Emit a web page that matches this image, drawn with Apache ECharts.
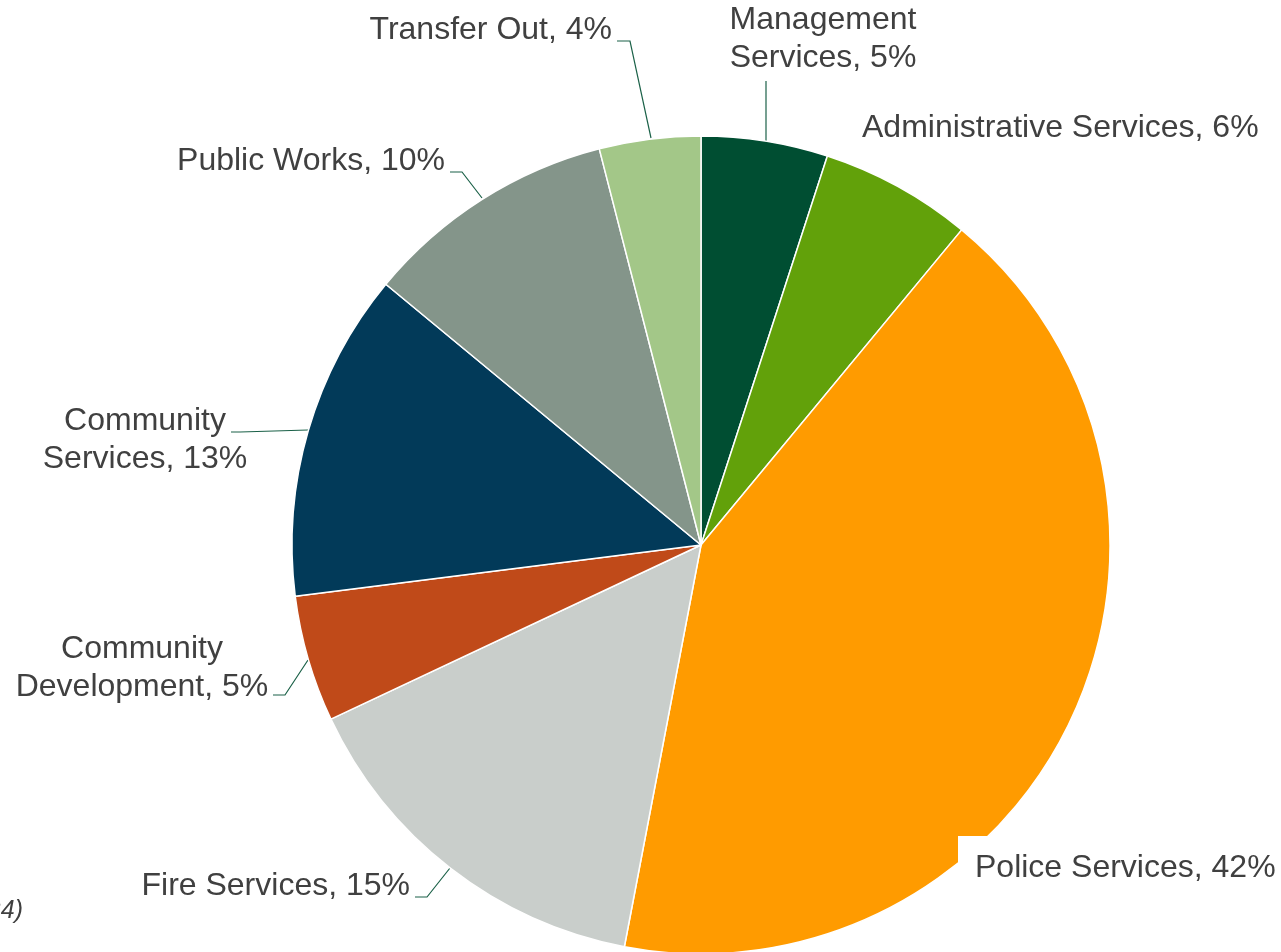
<!DOCTYPE html>
<html>
<head>
<meta charset="utf-8">
<script src="https://cdn.jsdelivr.net/npm/echarts@6/dist/echarts.min.js"></script>
<style>
  html, body { margin: 0; padding: 0; background: #fff; }
  #chart { width: 1281px; height: 952px; }
</style>
</head>
<body>
<div id="chart"></div>
<script>
// General fund expenditures by department (percent of total)
const categories = [
  'Management\nServices',
  'Administrative Services',
  'Police Services',
  'Fire Services',
  'Community\nDevelopment',
  'Community\nServices',
  'Public Works',
  'Transfer Out'
];
const shares = [5, 6, 42, 15, 5, 13, 10, 4];
const sliceColors = ['#004E32', '#62A10A', '#FF9B00', '#C9CECB', '#C04A19', '#023A59', '#84958A', '#A3C788'];

// Label placement per slice: anchor point, alignment, and optional leader line
const labelPlacement = [
  { x: 823, y: 39, align: 'center', line: [[766, 141], [766, 112], [766, 81]] },
  { x: 862, y: 128, align: 'left', line: null },
  { x: 975, y: 868, align: 'left', line: null },
  { x: 410, y: 886, align: 'right', line: [[450, 868], [427, 897], [415, 897]] },
  { x: 142, y: 668, align: 'center', line: [[308, 660], [285, 695], [273, 695]] },
  { x: 145, y: 440, align: 'center', line: [[308, 430], [240, 432], [231, 432]] },
  { x: 445, y: 161, align: 'right', line: [[482, 198], [462, 172], [450, 172]] },
  { x: 612, y: 30, align: 'right', line: [[651, 138], [630, 41], [617, 41]] }
];

const chart = echarts.init(document.getElementById('chart'), null, { renderer: 'canvas' });

const seriesData = categories.map((name, i) => {
  const item = {
    name: name,
    value: shares[i],
    itemStyle: { color: sliceColors[i] }
  };
  if (!labelPlacement[i].line) {
    item.labelLine = { show: false };
  }
  if (i === 2) {
    item.label = { backgroundColor: '#ffffff', padding: [13, 12, 13, 17] };
  }
  return item;
});

chart.setOption({
  animation: false,
  backgroundColor: '#ffffff',
  series: [{
    type: 'pie',
    center: [701, 545],
    radius: [0, 409],
    startAngle: 90,
    clockwise: true,
    data: seriesData,
    itemStyle: { borderColor: '#ffffff', borderWidth: 1.5 },
    label: {
      show: true,
      formatter: p => p.name + ', ' + p.value + '%',
      fontFamily: 'Liberation Sans, Arial, sans-serif',
      fontSize: 32,
      lineHeight: 38,
      color: '#404040',
      overflow: 'none'
    },
    labelLine: {
      show: true,
      lineStyle: { color: '#1B6148', width: 1.2 }
    },
    labelLayout: params => {
      const p = labelPlacement[params.dataIndex];
      const out = { x: p.x, y: p.y, align: p.align, verticalAlign: 'middle', hideOverlap: false, moveOverlap: null };
      if (params.dataIndex === 2) {
        out.x = p.x - 17;
      }
      if (p.line) out.labelLinePoints = p.line;
      return out;
    }
  }],
  graphic: [{
    type: 'text',
    right: 1258,
    top: 899,
    style: {
      text: '24)',
      fontFamily: 'Liberation Sans, Arial, sans-serif',
      fontStyle: 'italic',
      fontSize: 25,
      fill: '#404040',
      textAlign: 'right'
    }
  }]
});
</script>
</body>
</html>
